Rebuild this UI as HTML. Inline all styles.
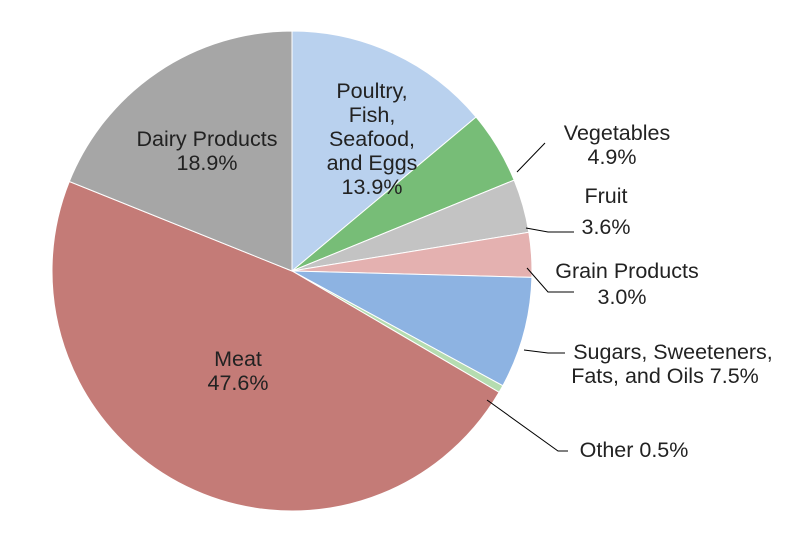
<!DOCTYPE html>
<html><head><meta charset="utf-8"><style>
html,body{margin:0;padding:0;background:#fff;}
svg{display:block;font-family:"Liberation Sans",sans-serif;}
text{font-size:21.5px;fill:#222;text-anchor:middle;}
</style></head><body>
<svg id="s" width="800" height="533" viewBox="0 0 800 533">
<g id="pie" stroke="#fff" stroke-width="1"></g>
<g stroke="#000" stroke-width="1" fill="none">
<polyline points="517,172 545,143"/>
<polyline points="526,228 548,232 574,232"/>
<polyline points="527,268 548,292 574,292"/>
<polyline points="524,350 548,353 565,353"/>
<polyline points="487,400 558,451 568,451"/>
</g>
<text x="372" y="98">Poultry,</text>
<text x="372" y="122">Fish,</text>
<text x="372" y="146">Seafood,</text>
<text x="372" y="170">and Eggs</text>
<text x="372" y="194">13.9%</text>
<text x="207" y="146">Dairy Products</text>
<text x="207" y="170">18.9%</text>
<text x="238" y="366">Meat</text>
<text x="238" y="390">47.6%</text>
<text x="617" y="140">Vegetables</text>
<text x="612" y="164">4.9%</text>
<text x="606" y="203">Fruit</text>
<text x="606" y="234">3.6%</text>
<text x="627" y="278">Grain Products</text>
<text x="622" y="304">3.0%</text>
<text x="673" y="359">Sugars, Sweeteners,</text>
<text x="665" y="383">Fats, and Oils 7.5%</text>
<text x="634" y="457">Other 0.5%</text>
</svg>
<script>
var d=[[13.9,"#b9d1ee"],[4.9,"#77bd77"],[3.6,"#c3c3c3"],[3.0,"#e4b1b0"],[7.5,"#8db3e2"],[0.5,"#b5dcb0"],[47.6,"#c47b77"],[18.9,"#a6a6a6"]];
var cx=292,cy=271,r=240,a=0,g=document.getElementById("pie"),h="";
d.forEach(function(s){var b=a+s[0]/99.9*2*Math.PI;
var x1=cx+r*Math.sin(a),y1=cy-r*Math.cos(a),x2=cx+r*Math.sin(b),y2=cy-r*Math.cos(b);
h+='<path fill="'+s[1]+'" d="M'+cx+','+cy+'L'+x1+','+y1+'A'+r+','+r+' 0 '+((b-a)>Math.PI?1:0)+' 1 '+x2+','+y2+'Z"/>';a=b;});
g.innerHTML=h;
</script>
</body></html>
